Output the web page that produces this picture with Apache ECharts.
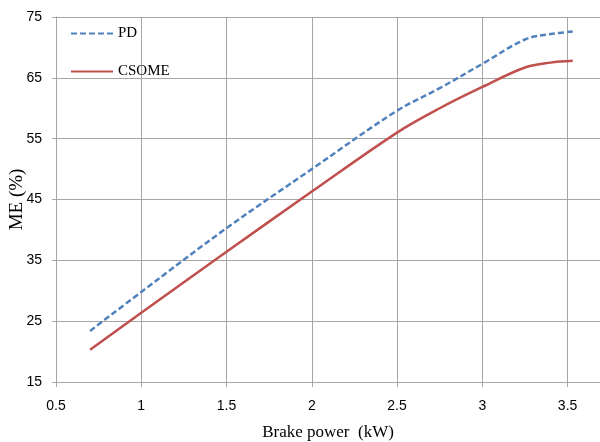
<!DOCTYPE html>
<html>
<head>
<meta charset="utf-8">
<script src="https://cdn.jsdelivr.net/npm/echarts@6/dist/echarts.min.js"></script>
<style>
html,body{margin:0;padding:0;background:#fff;}
#chart{width:600px;height:442px;}
</style>
</head>
<body>
<div id="chart"></div>
<script>
var brakePower = [0.7, 1.0, 1.5, 2.0, 2.5, 2.75, 3.0, 3.25, 3.4, 3.53];
var pdValues = [23.4, 29.8, 40.3, 50.0, 59.6, 63.3, 67.3, 71.3, 72.2, 72.6];
var csomeValues = [20.3, 26.4, 36.4, 46.3, 56.0, 60.0, 63.5, 66.7, 67.5, 67.8];
var seriesNames = ['PD', 'CSOME'];
var xAxisName = 'Brake power  (kW)';
var yAxisName = 'ME (%)';

function pairs(xs, ys) { return xs.map(function (x, i) { return [x, ys[i]]; }); }

var gridColor = '#a6a6a6';
var chart = echarts.init(document.getElementById('chart'), null, {renderer: 'canvas'});
chart.setOption({
  animation: false,
  backgroundColor: '#ffffff',
  grid: {left: 56, right: 0, top: 17, bottom: 60, containLabel: false, outerBoundsMode: 'none'},
  legend: {
    orient: 'vertical', left: 70, top: 26, itemWidth: 42, itemHeight: 14, itemGap: 23, padding: 0,
    itemStyle: {opacity: 0, borderWidth: 0},
    textStyle: {fontFamily: 'Liberation Serif', fontSize: 15, color: '#000'},
    data: seriesNames
  },
  xAxis: {
    type: 'value', min: 0.5, max: 3.69, interval: 0.5,
    name: xAxisName, nameLocation: 'middle', nameGap: 42,
    nameTextStyle: {fontFamily: 'Liberation Serif', fontSize: 17, color: '#000'},
    axisLine: {show: true, lineStyle: {color: gridColor, width: 1}},
    axisTick: {show: true, length: 5, lineStyle: {color: gridColor}},
    splitLine: {show: true, lineStyle: {color: gridColor, width: 1}},
    axisLabel: {fontFamily: 'Liberation Sans', fontSize: 14, color: '#000', margin: 17,
      showMaxLabel: false,
      formatter: function (v) { return String(v); }}
  },
  yAxis: {
    type: 'value', min: 15, max: 75, interval: 10,
    name: yAxisName, nameLocation: 'middle', nameGap: 29, nameRotate: 90,
    nameMoveOverlap: false,
    nameTextStyle: {fontFamily: 'Liberation Serif', fontSize: 19, color: '#000'},
    axisLine: {show: true, lineStyle: {color: gridColor, width: 1}},
    axisTick: {show: true, length: 4, lineStyle: {color: gridColor}},
    splitLine: {show: true, lineStyle: {color: gridColor, width: 1}},
    axisLabel: {fontFamily: 'Liberation Sans', fontSize: 14, color: '#000', margin: 14}
  },
  series: [
    {
      name: seriesNames[0], type: 'line', data: pairs(brakePower, pdValues),
      smooth: 0.35, showSymbol: false, symbol: 'none',
      lineStyle: {color: '#4f81bd', width: 2.5, type: [6, 3]},
      itemStyle: {color: '#4f81bd'}
    },
    {
      name: seriesNames[1], type: 'line', data: pairs(brakePower, csomeValues),
      smooth: 0.35, showSymbol: false, symbol: 'none',
      lineStyle: {color: '#c0504d', width: 2.5, type: 'solid'},
      itemStyle: {color: '#c0504d'}
    }
  ]
});
</script>
</body>
</html>
